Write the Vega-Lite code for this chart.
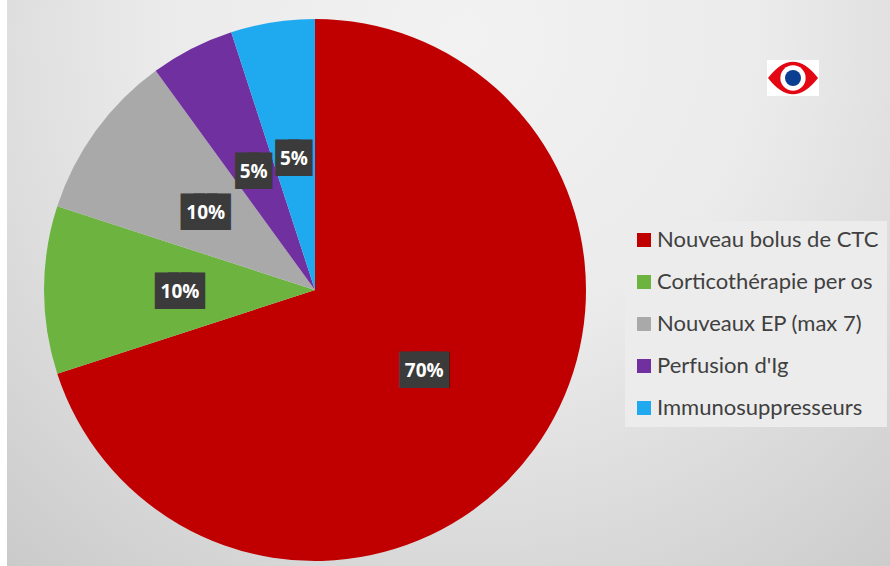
{
"$schema":"https://vega.github.io/schema/vega-lite/v6.json",
"width":890,"height":566,"padding":0,"autosize":"none","background":"white",
"config":{"view":{"stroke":null}},
"datasets":{"d":[
{"cat":"Nouveau bolus de CTC","pct":70,"ord":1,"label":"70%"},
{"cat":"Corticothérapie per os","pct":10,"ord":2,"label":"10%"},
{"cat":"Nouveaux EP (max 7)","pct":10,"ord":3,"label":"10%"},
{"cat":"Perfusion d'Ig","pct":5,"ord":4,"label":"5%"},
{"cat":"Immunosuppresseurs","pct":5,"ord":5,"label":"5%"}
],"one":[{"k":1}]},
"layer":[
{"data":{"name":"one"},
 "mark":{"type":"rect","color":{"gradient":"radial","x1":0.52,"y1":0.22,"r1":0,"x2":0.52,"y2":0.22,"r2":0.85,"stops":[{"offset":0,"color":"#f2f2f2"},{"offset":0.4,"color":"#ebebeb"},{"offset":0.75,"color":"#d6d6d6"},{"offset":1,"color":"#c6c6c6"}]}},
 "encoding":{"x":{"value":7},"x2":{"value":890},"y":{"value":0},"y2":{"value":566}}},
{"data":{"name":"d"},
 "encoding":{"theta":{"field":"pct","type":"quantitative","stack":true,"scale":{"domain":[0,100]}},
   "order":{"field":"ord","type":"ordinal"},
   "x":{"value":315},"y":{"value":290}},
 "layer":[
  {"mark":{"type":"arc","outerRadius":271},
   "encoding":{"color":{"field":"cat","type":"nominal","sort":null,
     "scale":{"domain":["Nouveau bolus de CTC","Corticothérapie per os","Nouveaux EP (max 7)","Perfusion d'Ig","Immunosuppresseurs"],"range":["#c00000","#6cb33f","#a9a9a9","#7030a0","#1fa9ee"]},
     "legend":{"title":null,"orient":"none","legendX":625,"legendY":221,"padding":8,"fillColor":"#ececec","symbolType":"square","symbolSize":196,"symbolStrokeWidth":0,"symbolOpacity":1,"labelFont":"Lato","labelFontSize":22,"labelColor":"#404040","labelLimit":260,"rowPadding":20,"labelOffset":2,"clipHeight":22}}}},
  {"mark":{"type":"text","radius":135,"dy":2,"font":"DejaVu Sans Mono","fontSize":21.5,"baseline":"middle","stroke":"#3b3b3b","strokeWidth":11,"strokeJoin":"miter","fill":"#3b3b3b"},
   "encoding":{"text":{"condition":{"test":"datum.pct>5","value":"███"},"value":"██"}}},
  {"mark":{"type":"text","radius":135,"dy":2,"font":"Open Sans","fontWeight":"bold","fontSize":19,"fill":"white"},
   "encoding":{"text":{"field":"label"}}}
 ]},
{"data":{"name":"one"},"mark":{"type":"rect","fill":"white"},
 "encoding":{"x":{"value":767},"x2":{"value":819},"y":{"value":60},"y2":{"value":96}}},
{"data":{"name":"one"},"mark":{"type":"point","filled":true,"fill":"#e30613","opacity":1,"strokeWidth":0,"size":2500,"shape":"M-1 0Q-0.5 -0.65 0 -0.65Q0.5 -0.65 1 0Q0.5 0.65 0 0.65Q-0.5 0.65 -1 0Z"},
 "encoding":{"x":{"value":793},"y":{"value":78}}},
{"data":{"name":"one"},"mark":{"type":"point","filled":true,"fill":"white","opacity":1,"strokeWidth":0,"size":640,"shape":"circle"},
 "encoding":{"x":{"value":793},"y":{"value":78}}},
{"data":{"name":"one"},"mark":{"type":"point","filled":true,"fill":"#0b3d91","opacity":1,"strokeWidth":0,"size":256,"shape":"circle"},
 "encoding":{"x":{"value":793},"y":{"value":78}}}
]}
